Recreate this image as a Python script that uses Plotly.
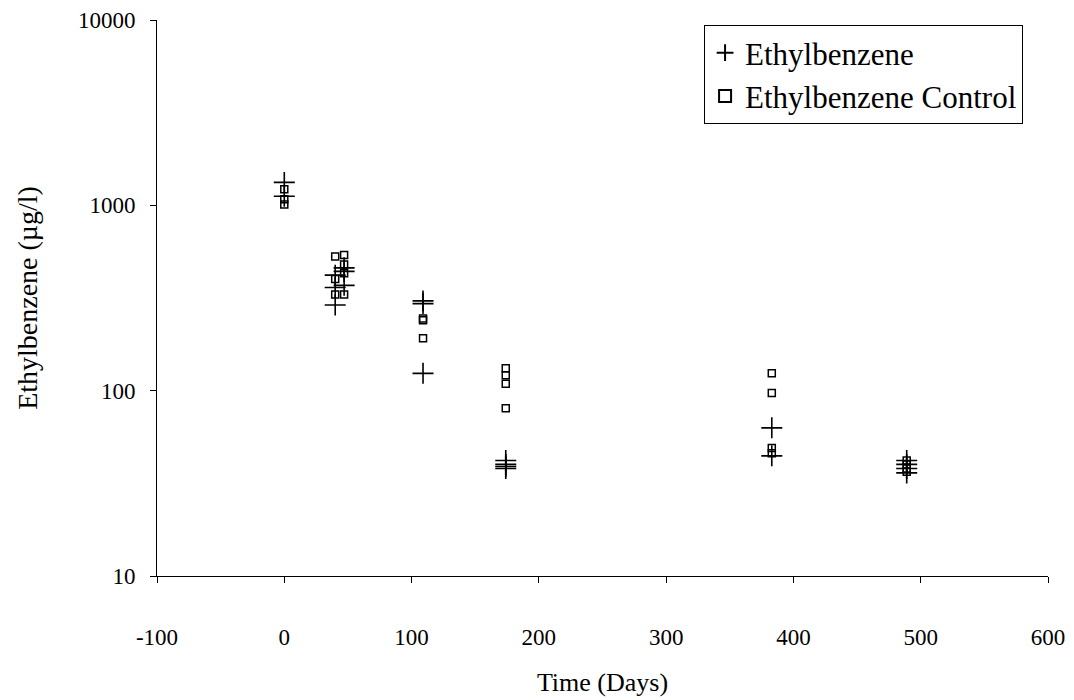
import plotly.graph_objects as go

# Ethylbenzene (crosses)
eb_days = [0, 0, 40, 40, 40, 47, 47, 47, 109, 109, 109, 174, 174, 174, 174, 383, 383, 489, 489, 489, 489]
eb_vals = [1330, 1120, 290, 360, 420, 460, 440, 370, 305, 295, 124, 42, 40, 39, 38, 63, 44.5, 42, 40, 38, 36]

# Ethylbenzene Control (squares)
ctl_days = [0, 0, 0, 40, 40, 40, 47, 47, 47, 47, 109, 109, 109, 174, 174, 174, 174, 383, 383, 383, 383, 489, 489, 489, 489]
ctl_vals = [1220, 1080, 1010, 530, 400, 330, 540, 480, 430, 330, 245, 240, 192, 132, 121, 109, 80.5, 124, 97, 49, 46, 42, 40, 38, 36.5]

xticks = [-100, 0, 100, 200, 300, 400, 500, 600]
xticktext = ["-100", "0", "100", "200", "300", "400", "500", "600"]
yticks = [10, 100, 1000, 10000]
yticktext = ["10", "100", "1000", "10000"]

font = "Liberation Serif, Times New Roman, serif"

fig = go.Figure()
fig.add_trace(go.Scatter(
    x=eb_days, y=eb_vals, mode="markers", name="Ethylbenzene",
    marker=dict(symbol="cross-thin", size=15, color="black",
                line=dict(color="black", width=1.6)),
))
fig.add_trace(go.Scatter(
    x=ctl_days, y=ctl_vals, mode="markers", name="Ethylbenzene Control",
    marker=dict(symbol="square-open", size=7, color="black",
                line=dict(color="black", width=1.5)),
))

fig.update_layout(
    width=1074, height=700,
    margin=dict(l=157, r=26, t=20, b=124, autoexpand=False),
    plot_bgcolor="white", paper_bgcolor="white",
    font=dict(family=font, size=22, color="black"),
    showlegend=True,
    legend=dict(
        x=0.614, y=0.991, xanchor="left", yanchor="top",
        bordercolor="black", borderwidth=1, bgcolor="white",
        font=dict(family=font, size=31, color="black"),
        itemsizing="constant", tracegroupgap=0,
    ),
    xaxis=dict(
        range=[-100, 600], tickvals=xticks, ticktext=xticktext,
        ticks="outside", ticklen=6, automargin=False,
        tickcolor="black", showline=True, linecolor="black", linewidth=1,
        showgrid=False, zeroline=False, mirror=False,
        tickfont=dict(family=font, size=23),
        ticklabelstandoff=34,
        title=dict(text="Time (Days)", font=dict(family=font, size=26), standoff=24),
    ),
    yaxis=dict(
        type="log", range=[1, 4], tickvals=yticks, ticktext=yticktext,
        ticks="outside", ticklen=6, automargin=False, tickcolor="black",
        showline=True, linecolor="black", linewidth=1,
        showgrid=False, zeroline=False, mirror=False,
        tickfont=dict(family=font, size=23),
        ticklabelstandoff=10,
        title=dict(text="Ethylbenzene (µg/l)", font=dict(family=font, size=28), standoff=32),
    ),
)

fig.write_html("out.html", config={"displayModeBar": False},
               post_script="document.body.style.margin='0';document.body.style.overflow='hidden';")
